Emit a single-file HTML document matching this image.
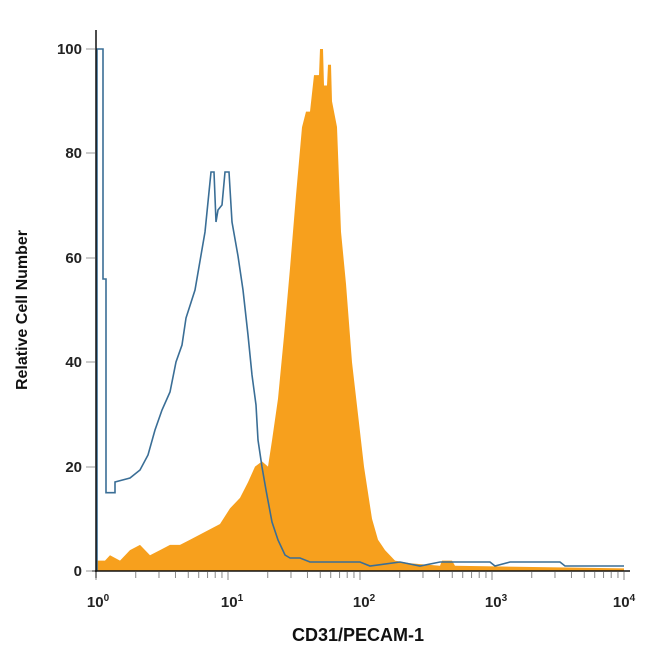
<!DOCTYPE html>
<html><head><meta charset="utf-8"><style>
body{margin:0;background:#fff;}
svg{display:block;font-family:"Liberation Sans",sans-serif;}
</style></head><body>
<svg width="650" height="650" viewBox="0 0 650 650">
<rect width="650" height="650" fill="#fff"/>
<path fill="#f7a01d" d="M97,571 L97,560.6 L105,560.6 L110,555.3 L120,560.6 L130,550.1 L140,544.9 L150,555.3 L160,550.1 L170,544.9 L180,544.9 L190,539.7 L200,534.5 L210,529.2 L220,524 L230,508.4 L240,497.9 L248,482.3 L255,466.6 L262,461.4 L268,466.6 L272,440.5 L278,398.7 L284,336.1 L290,268.2 L296,195.2 L302,127.3 L306,111.6 L310,111.6 L314,75.1 L319,75.1 L320,49 L323,49 L324,85.5 L327,85.5 L328,64.7 L331,64.7 L332,101.2 L337,127 L341,231.7 L346,283.9 L352,362.2 L358,414.4 L364,466.6 L368,492.7 L372,518.8 L378,539.7 L385,550.1 L395,560.6 L410,563.2 L440,565.8 L442,560.6 L452,560.6 L455,565.8 L624,568.4 L624,571 Z"/>
<path fill="none" stroke="#3a6e96" stroke-width="1.6" d="M97,571 L97,49 L103,49 L103,279 L106,279 L106,492.7 L108,492.7 L115,492.7 L115,482 L130,478 L140,470 L148,455 L155,430 L162,410 L170,392 L176,362 L182,345 L186,318 L195,290 L205,232 L211,172 L214,172 L216,222 L218,210 L222,205 L225,172 L229,172 L232,222 L238,256 L243,290 L248,335 L252,375 L256,405 L258,440 L262,467 L266,490 L272,522 L278,540 L285,555 L290,558 L300,558 L310,562 L330,562 L360,562 L370,566 L400,562 L420,566 L440,562 L490,562 L495,566 L510,562 L560,562 L565,566 L624,566"/>
<line x1="96" y1="30" x2="96" y2="578" stroke="#111" stroke-width="1.5"/>
<line x1="92" y1="571" x2="630" y2="571" stroke="#111" stroke-width="1.5"/>
<g stroke="#999" stroke-width="1">
<line x1="86" y1="571" x2="95" y2="571"/><line x1="86" y1="467" x2="95" y2="467"/><line x1="86" y1="362" x2="95" y2="362"/><line x1="86" y1="258" x2="95" y2="258"/><line x1="86" y1="153" x2="95" y2="153"/><line x1="86" y1="49" x2="95" y2="49"/>
</g>
<g id="ticks" stroke="#888" stroke-width="1"></g>
<g font-size="15" font-weight="bold" fill="#222" text-anchor="end">
<text x="82" y="576">0</text><text x="82" y="472">20</text><text x="82" y="367">40</text><text x="82" y="263">60</text><text x="82" y="158">80</text><text x="82" y="54">100</text>
</g>
<g font-size="15" fill="#222" text-anchor="middle" font-weight="bold">
<text x="98" y="607">10<tspan font-size="10" dy="-6">0</tspan></text>
<text x="232" y="607">10<tspan font-size="10" dy="-6">1</tspan></text>
<text x="364" y="607">10<tspan font-size="10" dy="-6">2</tspan></text>
<text x="496" y="607">10<tspan font-size="10" dy="-6">3</tspan></text>
<text x="624" y="607">10<tspan font-size="10" dy="-6">4</tspan></text>
</g>
<text x="358" y="641" font-size="18" font-weight="bold" text-anchor="middle" fill="#111">CD31/PECAM-1</text>
<text transform="translate(27,310) rotate(-90)" font-size="16" font-weight="bold" text-anchor="middle" fill="#111">Relative Cell Number</text>
</svg>
<script>
var g=document.getElementById('ticks');var s='';
for(var d=0;d<4;d++)for(var k=1;k<=10;k++){var x=96+(d+Math.log10(k))*132;var L=(k==1||k==10)?8:6;s+='<line x1="'+x+'" y1="572" x2="'+x+'" y2="'+(572+L)+'"/>';}
g.innerHTML=s;
</script>
</body></html>
